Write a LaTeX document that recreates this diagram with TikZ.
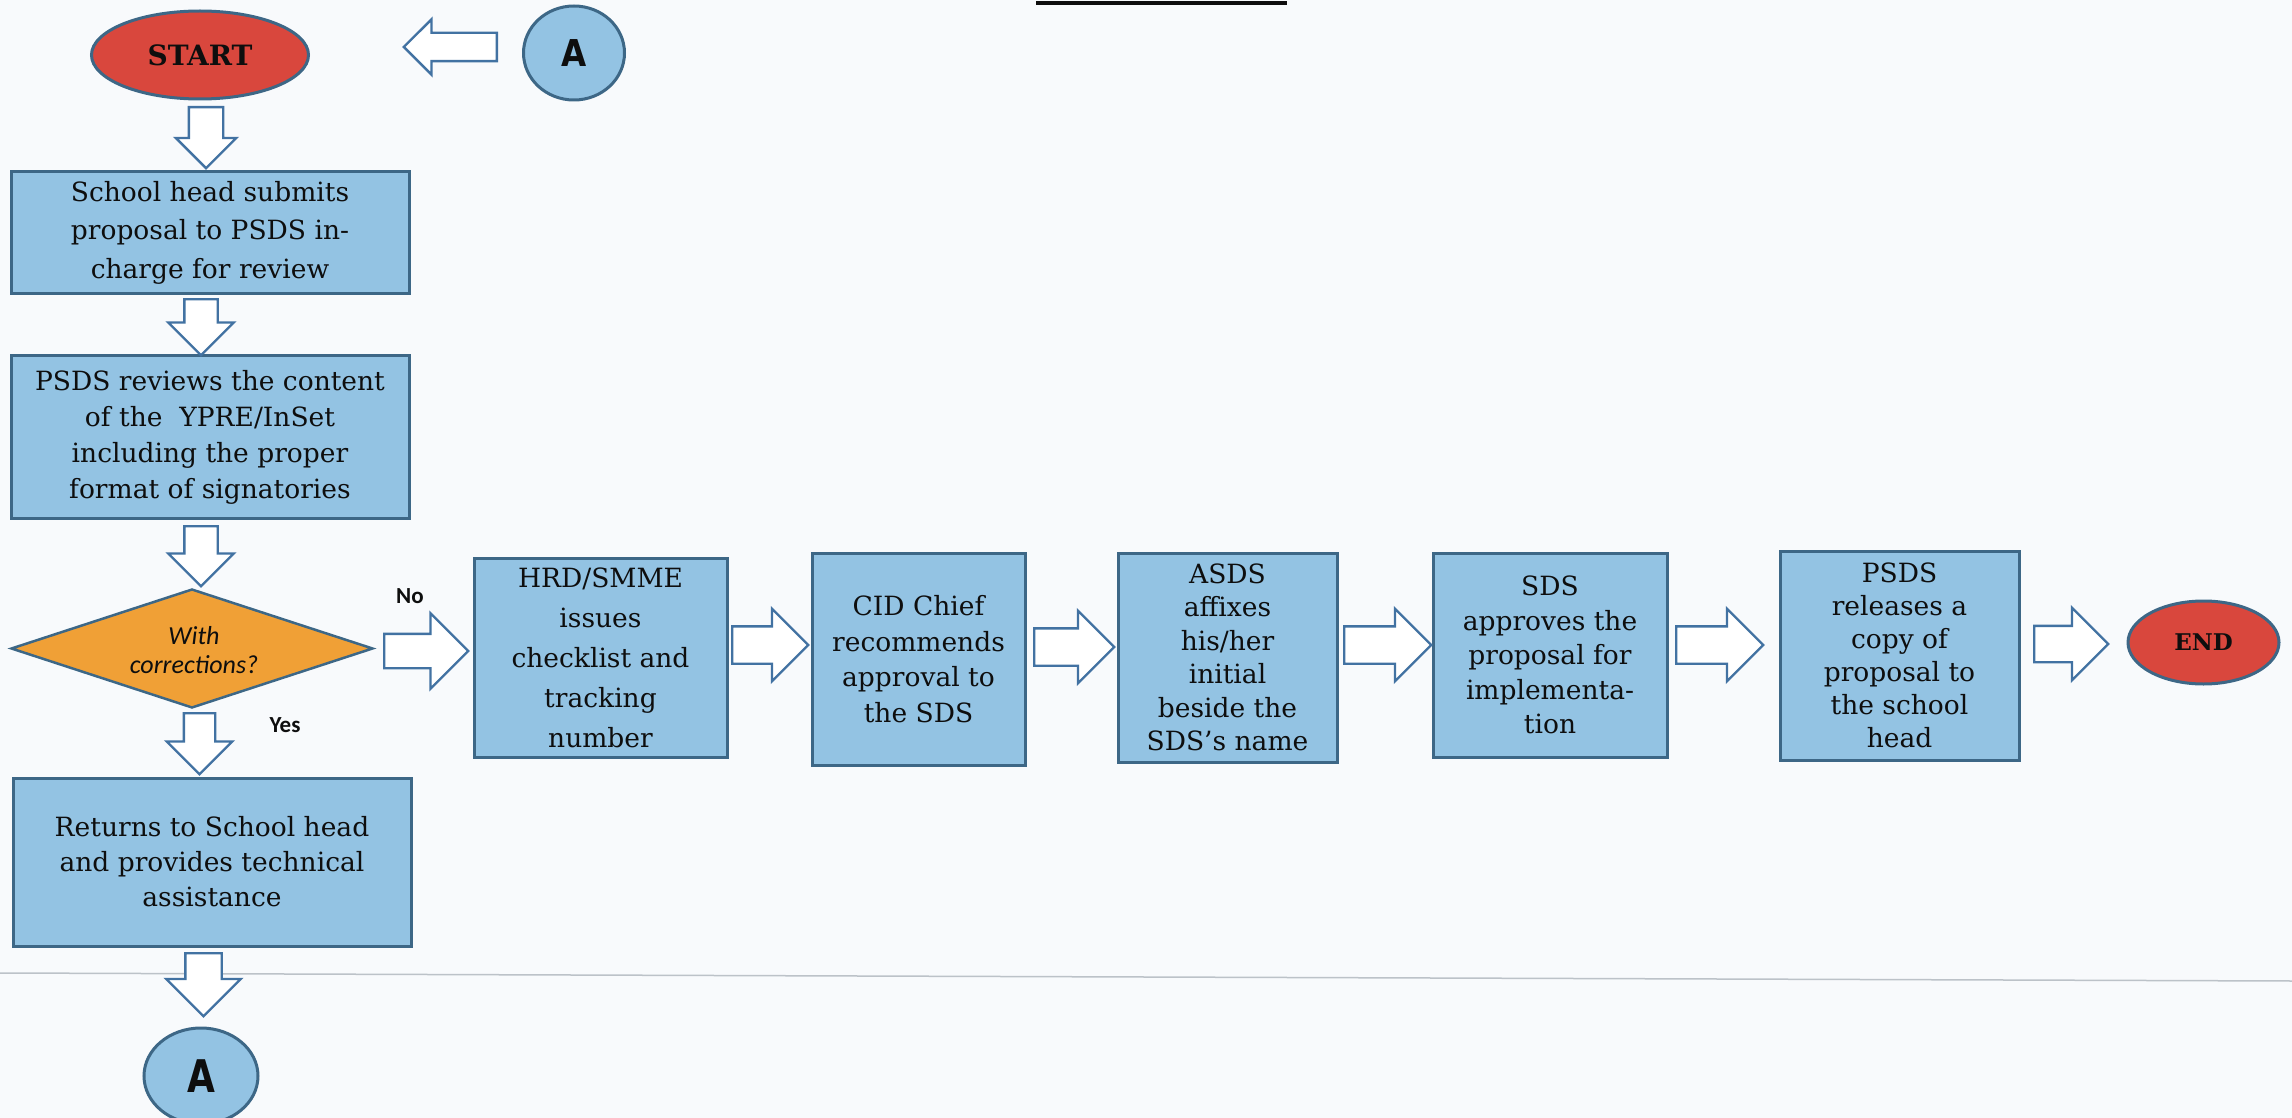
\documentclass[tikz,border=0pt]{standalone}
\usepackage{fontspec}
\setmainfont{DejaVu Serif}
\newfontfamily\carlito{Carlito}
\newfontfamily\dvsans{DejaVu Sans}
\usetikzlibrary{shapes.geometric,shapes.arrows}
\definecolor{bgcol}{HTML}{F8FAFC}
\definecolor{boxfill}{HTML}{93C3E3}
\definecolor{boxline}{HTML}{3D6786}
\definecolor{arrowcol}{HTML}{4272A2}
\definecolor{redfill}{HTML}{D9473D}
\definecolor{orangefill}{HTML}{F0A036}
\definecolor{txt}{HTML}{0E0E0E}
\definecolor{rulegray}{HTML}{BCC2C8}
\newcommand{\bx}[1]{\fontsize{26.5}{#1}\selectfont}
\begin{document}
\begin{tikzpicture}[x=1pt,y=-1pt,
  box/.style={rectangle, draw=boxline, line width=3pt, fill=boxfill, align=center, text=txt,
              inner sep=0pt},
  term/.style={ellipse, draw=boxline, line width=3pt, fill=redfill, inner sep=0pt, text=txt},
  conn/.style={ellipse, draw=boxline, line width=3pt, fill=boxfill, inner sep=0pt, text=txt,
               font=\dvsans\bfseries},
  harrow/.style n args={3}{single arrow, draw=arrowcol, fill=white, line width=2.4pt,
              inner xsep=0pt, inner ysep=#1, single arrow head extend=#2,
              minimum height=#3, minimum width=0pt, single arrow tip angle=90, anchor=tail},
  varrow/.style n args={3}{single arrow, draw=arrowcol, fill=white, line width=2.4pt,
              inner ysep=0pt, inner xsep=#1, single arrow head extend=#2,
              minimum height=#3, minimum width=0pt, single arrow tip angle=90, anchor=tail,
              shape border rotate=270},
  lbl/.style={font=\carlito\bfseries\fontsize{23}{26}\selectfont, text=txt, inner sep=0pt}
]
\useasboundingbox (0,0) rectangle (2292,1118);
\fill[bgcol] (0,0) rectangle (2292,1118);

% decorative rules
\coordinate (tl1) at (1036,3);
\coordinate (tl2) at (1287,3);
\draw[line width=4pt, txt] (tl1) -- (tl2);
\coordinate (gl1) at (0,973);
\coordinate (gl2) at (2292,981);
\draw[line width=1.5pt, rulegray] (gl1) -- (gl2);

% left column
\node[term, minimum width=217pt, minimum height=88pt,
      font=\bfseries\fontsize{28}{30}\selectfont] (start) at (200,55) {START};
\node[conn, minimum width=101pt, minimum height=94pt,
      font=\dvsans\bfseries\fontsize{37}{40}\selectfont] (A1) at (574,53) {\scalebox{0.88}[1]{A}};

\node[box, minimum width=398pt, minimum height=121pt, font=\bx{38.5}] (b1) at (210,232.5)
  {School head submits\\proposal to PSDS in-\\charge for review};
\node[box, minimum width=398pt, minimum height=163pt, font=\bx{36}] (b2) at (210,437)
  {PSDS reviews the content\\of the\ \ YPRE/InSet\\including the proper\\format of signatories};
\node[diamond, draw=boxline, line width=2.5pt, fill=orangefill, inner sep=0pt,
      minimum width=362pt, minimum height=119pt] (dec) at (192,648.5) {};
\node[font=\carlito\itshape\fontsize{26}{29}\selectfont, align=center, text=txt, inner sep=0pt]
  (dectext) at (194,650) {With\\corrections?};
\node[box, minimum width=398pt, minimum height=168pt, font=\bx{35}] (b3) at (212,862)
  {Returns to School head\\and provides technical\\assistance};
\node[conn, minimum width=114pt, minimum height=96pt,
      font=\dvsans\bfseries\fontsize{45}{48}\selectfont] (A2) at (201,1076) {\scalebox{0.8}[1]{A}};

% horizontal row
\node[box, minimum width=253pt, minimum height=199pt, font=\bx{40}] (hrd) at (600.5,657.5)
  {HRD/SMME\\issues\\checklist and\\tracking\\number};
\node[box, minimum width=213pt, minimum height=212pt, font=\bx{35.5}] (cid) at (918.5,659)
  {CID Chief\\recommends\\approval to\\the SDS};
\node[box, minimum width=219pt, minimum height=209pt, font=\bx{33.5}] (asds) at (1227.5,657.5)
  {ASDS\\affixes\\his/her\\initial\\beside the\\SDS’s name};
\node[box, minimum width=234pt, minimum height=204pt, font=\bx{34.5}] (sds) at (1550,655)
  {SDS\\approves the\\proposal for\\implementa-\\tion};
\node[box, minimum width=239pt, minimum height=209pt, font=\bx{33}] (psds) at (1899.5,655.5)
  {PSDS\\releases a\\copy of\\proposal to\\the school\\head};
\node[term, minimum width=151pt, minimum height=83pt,
      font=\bfseries\fontsize{23}{26}\selectfont] (fin) at (2203.5,642.5) {END};

% block arrows
\node[harrow={13pt}{13.5pt}{93pt}, shape border rotate=180] (aL) at (498,47) {};
\node[varrow={16pt}{13pt}{61pt}] (a1) at (206,106) {};
\node[varrow={15.5pt}{16pt}{56pt}] (a2) at (201,298) {};
\node[varrow={15.5pt}{16pt}{60pt}] (a3) at (201,525) {};
\node[varrow={14.5pt}{17pt}{61pt}] (aYes) at (199.5,712) {};
\node[varrow={17pt}{19pt}{63pt}] (a5) at (203.5,952) {};
\node[harrow={16pt}{20.5pt}{84pt}] (aNo) at (383,651) {};
\node[harrow={17.5pt}{17.5pt}{76pt}] (ah1) at (731,645) {};
\node[harrow={17.5pt}{17.5pt}{80pt}] (ah2) at (1033,647) {};
\node[harrow={17.5pt}{17.5pt}{87pt}] (ah3) at (1343,645) {};
\node[harrow={17.5pt}{17.5pt}{87pt}] (ah4) at (1675,645) {};
\node[harrow={17pt}{18pt}{74pt}] (ah5) at (2033,644) {};

% labels
\node[lbl] (lno) at (410,596) {No};
\node[lbl] (lyes) at (285,725) {Yes};
\end{tikzpicture}
\end{document}
